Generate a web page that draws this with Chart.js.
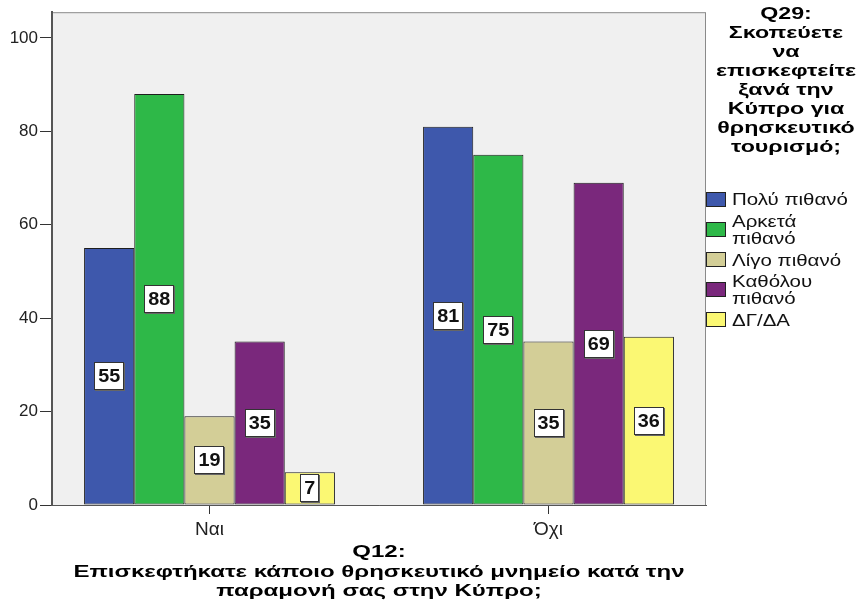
<!DOCTYPE html>
<html>
<head>
<meta charset="utf-8">
<script src="https://cdn.jsdelivr.net/npm/chart.js@4"></script>
<style>
    html, body { margin: 0; padding: 0; background: #fff; }
    #wrap { width: 859px; height: 615px; }
</style>
</head>
<body>
<div id="wrap"><canvas id="chart" width="859" height="615"></canvas></div>
<script>
// Q12 answers on the x axis
const categories = ['Ναι', 'Όχι'];
const yTicks = [0, 20, 40, 60, 80, 100];

// Q29 answers (legend), one array per series
const seriesNames = [['Πολύ πιθανό'], ['Αρκετά', 'πιθανό'], ['Λίγο πιθανό'], ['Καθόλου', 'πιθανό'], ['ΔΓ/ΔΑ']];
const seriesColors = ['#3e58ac', '#2eb848', '#d3ce97', '#7a287c', '#fbf873'];
const polyPithano = [55, 81];
const arketaPithano = [88, 75];
const ligoPithano = [19, 35];
const katholouPithano = [35, 69];
const dgDa = [7, 36];
const seriesValues = [polyPithano, arketaPithano, ligoPithano, katholouPithano, dgDa];

const xTitle = ['Q12:', 'Επισκεφτήκατε κάποιο θρησκευτικό μνημείο κατά την', 'παραμονή σας στην Κύπρο;'];
const legendTitle = ['Q29:', 'Σκοπεύετε', 'να', 'επισκεφτείτε', 'ξανά την', 'Κύπρο για', 'θρησκευτικό', 'τουρισμό;'];

const FONT = '"Liberation Sans", Arial, sans-serif';

const datasets = seriesValues.map((vals, i) => ({
    label: seriesNames[i].join(' '),
    data: vals.map((v, j) => ({ x: j, y: v })),
    backgroundColor: seriesColors[i],
    borderColor: '#1e1e1e',
    borderWidth: 1,
    borderSkipped: false,
    barPercentage: 1,
    categoryPercentage: 0.74
}));

// the SPSS output text is drawn wide, so stretch it horizontally
function wideText(ctx, txt, x, y, sx) {
    ctx.save();
    ctx.translate(x, y);
    ctx.scale(sx, 1);
    ctx.fillText(txt, 0, 0);
    ctx.restore();
}

// plot background + frame
const framePlugin = {
    id: 'frame',
    beforeDraw(chart) {
        const { ctx, chartArea: a } = chart;
        ctx.save();
        ctx.fillStyle = '#f0f0f0';
        ctx.fillRect(a.left, a.top, a.right - a.left, a.bottom - a.top);
        ctx.strokeStyle = '#8a8a8a';
        ctx.lineWidth = 1;
        ctx.strokeRect(a.left + 0.5, a.top + 0.5, a.right - a.left - 1, a.bottom - a.top);
        ctx.restore();
    }
};

// value boxes in the middle of each bar
const valueBoxes = {
    id: 'valueBoxes',
    afterDatasetsDraw(chart) {
        const ctx = chart.ctx;
        ctx.save();
        ctx.font = 'bold 18px ' + FONT;
        ctx.textAlign = 'center';
        ctx.textBaseline = 'middle';
        chart.data.datasets.forEach((ds, i) => {
            chart.getDatasetMeta(i).data.forEach((bar, j) => {
                const txt = String(ds.data[j].y);
                const cx = bar.x;
                const cy = (bar.y + bar.base) / 2;
                const w = Math.round(ctx.measureText(txt).width * 1.1 + 8);
                const h = 28;
                const x0 = Math.round(cx - w / 2);
                const y0 = Math.round(cy - h / 2);
                ctx.fillStyle = '#666';
                ctx.fillRect(x0 + 1, y0 + 1, w, h);
                ctx.fillStyle = '#fff';
                ctx.fillRect(x0, y0, w, h);
                ctx.strokeStyle = '#333';
                ctx.lineWidth = 1;
                ctx.strokeRect(x0 + 0.5, y0 + 0.5, w - 1, h - 1);
                ctx.fillStyle = '#111';
                wideText(ctx, txt, cx, cy + 1, 1.1);
            });
        });
        ctx.restore();
    }
};

// x axis title and legend on the right, wrapped like the SPSS output
const sideTexts = {
    id: 'sideTexts',
    afterDraw(chart) {
        const ctx = chart.ctx;
        const a = chart.chartArea;
        ctx.save();
        ctx.fillStyle = '#000';
        ctx.textAlign = 'center';
        ctx.textBaseline = 'middle';
        ctx.font = 'bold 16px ' + FONT;
        const tx = (a.left + a.right) / 2;
        xTitle.forEach((line, k) => wideText(ctx, line, tx, 553 + k * 19.3, 1.5));
        legendTitle.forEach((line, k) => wideText(ctx, line, 786, 15 + k * 18.9, 1.45));

        ctx.textAlign = 'left';
        ctx.font = '16px ' + FONT;
        seriesNames.forEach((lines, i) => {
            const mid = 199.5 + i * 30.1;
            const bx = a.right;
            ctx.fillStyle = seriesColors[i];
            ctx.fillRect(bx, Math.round(mid - 7.5), 20, 15);
            ctx.strokeStyle = '#222';
            ctx.lineWidth = 1;
            ctx.strokeRect(bx + 0.5, Math.round(mid - 7.5) + 0.5, 19, 14);
            ctx.fillStyle = '#111';
            const y0 = mid + 1.5 - (lines.length - 1) * 17 / 2;
            lines.forEach((ln, k) => wideText(ctx, ln, bx + 26, y0 + k * 17, 1.28));
        });
        ctx.restore();
    }
};

new Chart(document.getElementById('chart'), {
    type: 'bar',
    data: { datasets },
    plugins: [framePlugin, valueBoxes, sideTexts],
    options: {
        responsive: false,
        animation: false,
        layout: { padding: { top: 10, right: 153, bottom: 0, left: 0 } },
        plugins: { legend: { display: false }, tooltip: { enabled: false } },
        scales: {
            x: {
                type: 'linear',
                offset: false,
                min: -0.4646,
                max: 1.4646,
                afterBuildTicks(scale) {
                    scale.ticks = categories.map((c, i) => ({ value: i }));
                },
                afterFit(scale) { scale.height = 110; },
                ticks: {
                    autoSkip: false,
                    maxRotation: 0,
                    padding: 4,
                    color: '#222',
                    font: { family: FONT, size: 19 },
                    callback: (v) => categories[v]
                },
                grid: { offset: false, drawOnChartArea: false, tickLength: 9, color: '#333', tickWidth: 1 },
                border: { display: true, color: '#555', width: 1 }
            },
            y: {
                min: 0,
                max: 105.5,
                afterBuildTicks(scale) {
                    scale.ticks = yTicks.map(v => ({ value: v }));
                },
                afterFit(scale) { scale.width = 52; },
                ticks: {
                    padding: 2,
                    color: '#222',
                    font: { family: FONT, size: 17 }
                },
                grid: { drawOnChartArea: false, tickLength: 12, color: '#333', tickWidth: 1 },
                border: { display: true, color: '#555', width: 2 }
            }
        }
    }
});
</script>
</body>
</html>
